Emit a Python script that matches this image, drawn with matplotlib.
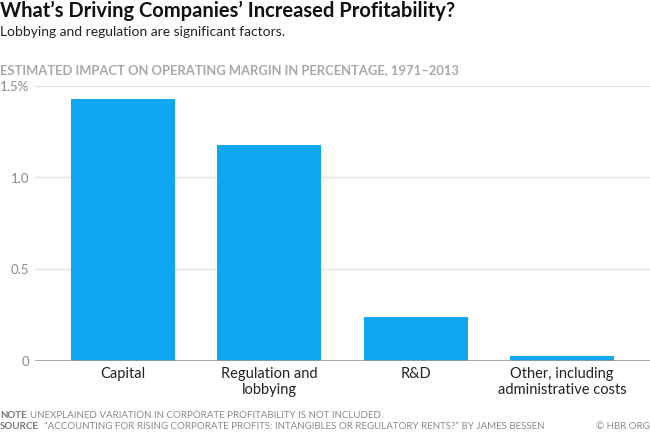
import matplotlib
matplotlib.use("Agg")
import matplotlib.pyplot as plt

categories = ["Capital", "Regulation and\nlobbying", "R&D", "Other, including\nadministrative costs"]
values = [1.43, 1.175, 0.24, 0.022]
yticks = [0, 0.5, 1.0, 1.5]
ytick_labels = ["0", "0.5", "1.0", "1.5%"]

plt.rcParams['font.family'] = ['Lato', 'DejaVu Sans']

fig = plt.figure(figsize=(6.5, 4.36), dpi=100)
ax = fig.add_axes([35/650, 1-360.5/436, 1-35/650, (360.5-86)/436])

x = list(range(len(categories)))
ax.bar(x, values, width=0.711, color="#0FA6F2", zorder=3)
ax.set_xlim(-0.60, 3.60)
ax.set_ylim(0, 1.5)
ax.set_yticks(yticks)
ax.set_yticklabels(ytick_labels)
ax.set_xticks(x)
ax.set_xticklabels(categories, fontsize=10.5, color="#222222", linespacing=1.15)
ax.tick_params(axis='x', length=0, pad=5)
ax.tick_params(axis='y', length=0, pad=4, labelsize=9.5, labelcolor="#8a8a8a")
for t in yticks[1:]:
    ax.axhline(t, color="#e2e2e2", lw=1, zorder=1)
ax.axhline(0, color="#9a9a9a", lw=1.2, zorder=4)
for s in ax.spines.values():
    s.set_visible(False)

fig.text(0.0, 1-17/436, "What\u2019s Driving Companies\u2019 Increased Profitability?", fontsize=14.5,
         fontweight='bold', color="#111111", va='baseline', ha='left')
fig.text(0.0, 1-32/436, "Lobbying and regulation are significant factors.", fontsize=10,
         color="#222222", va='center', ha='left')
fig.text(0.0, 1-70/436, "ESTIMATED IMPACT ON OPERATING MARGIN IN PERCENTAGE, 1971\u20132013", fontsize=9.4,
         fontweight='bold', color="#a8a8a8", va='center', ha='left')

fig.text(0.0, 1-415/436, "NOTE", fontsize=7, fontweight='bold', color="#777777", va='center', ha='left')
fig.text(30/650, 1-415/436, "UNEXPLAINED VARIATION IN CORPORATE PROFITABILITY IS NOT INCLUDED.", fontsize=7,
         color="#8a8a8a", va='center', ha='left')
fig.text(0.0, 1-426/436, "SOURCE", fontsize=7, fontweight='bold', color="#777777", va='center', ha='left')
fig.text(44/650, 1-426/436, "\u201cACCOUNTING FOR RISING CORPORATE PROFITS: INTANGIBLES OR REGULATORY RENTS?\u201d BY JAMES BESSEN",
         fontsize=7, color="#8a8a8a", va='center', ha='left')
fig.text(1.0, 1-426/436, "\u00a9 HBR.ORG", fontsize=7, color="#8a8a8a", va='center', ha='right')

fig.savefig("out.png", dpi=100)
